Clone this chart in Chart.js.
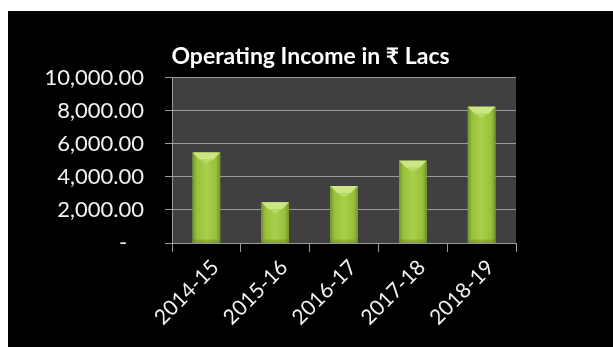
<!DOCTYPE html>
<html>
<head>
<meta charset="utf-8">
<script src="https://cdn.jsdelivr.net/npm/chart.js@4/dist/chart.umd.min.js"></script>
<style>
  html, body { margin: 0; padding: 0; background: #fff; }
  #wrap { position: absolute; left: 8px; top: 11px; width: 605px; height: 336px; background: #000; }
</style>
</head>
<body>
<div id="wrap"><canvas id="myChart" width="605" height="336"></canvas></div>
<script>
const years = ['2014-15', '2015-16', '2016-17', '2017-18', '2018-19'];
const income = [5470, 2470, 3440, 4980, 8240];
const yTicks = [0, 2000, 4000, 6000, 8000, 10000];

const FONT = 'Lato, "Noto Sans", sans-serif';

// dark grey plot area behind the bars
const plotBg = {
    id: 'plotBg',
    beforeDraw(chart) {
        const a = chart.chartArea;
        const c = chart.ctx;
        c.save();
        c.fillStyle = '#404040';
        c.fillRect(a.left, a.top, a.right - a.left, a.bottom - a.top);
        c.restore();
    }
};

// shaded bevel look on each bar
const bevel = {
    id: 'bevel',
    afterDatasetsDraw(chart) {
        const c = chart.ctx;
        chart.getDatasetMeta(0).data.forEach(bar => {
            const w = bar.width;
            const l = bar.x - w / 2, r = bar.x + w / 2;
            const top = bar.y, bot = bar.base;
            const g = c.createLinearGradient(l, 0, r, 0);
            g.addColorStop(0, '#74952a');
            g.addColorStop(0.15, '#98c03c');
            g.addColorStop(0.5, '#a8d04a');
            g.addColorStop(0.85, '#98c03c');
            g.addColorStop(1, '#74952a');
            c.save();
            c.fillStyle = g;
            c.fillRect(l, top, w, bot - top);
            const b = Math.min(7, (bot - top) / 3);
            // top facet
            c.fillStyle = '#cde585';
            c.beginPath();
            c.moveTo(l, top);
            c.lineTo(r, top);
            c.lineTo(r - b, top + b);
            c.lineTo(l + b, top + b);
            c.closePath();
            c.fill();
            c.fillStyle = '#b8d964';
            c.beginPath();
            c.moveTo(l + b, top + b);
            c.lineTo(r - b, top + b);
            c.lineTo(bar.x, top + b + 4);
            c.closePath();
            c.fill();
            // soft bottom edge
            c.fillStyle = 'rgba(100,130,30,0.35)';
            c.fillRect(l, bot - 3, w, 3);
            c.restore();
        });
    }
};

const ctx = document.getElementById('myChart').getContext('2d');

const myChart = new Chart(ctx, {
    type: 'bar',
    data: {
        labels: years,
        datasets: [{
            label: 'Operating Income',
            data: income,
            backgroundColor: '#9bc53d',
            borderWidth: 0,
            barPercentage: 0.4,
            categoryPercentage: 1
        }]
    },
    options: {
        responsive: false,
        animation: false,
        layout: { padding: 0 },
        scales: {
            x: {
                grid: {
                    offset: true,
                    drawOnChartArea: false,
                    color: '#9a9a9a',
                    tickLength: 9
                },
                border: { color: '#9a9a9a', width: 1 },
                ticks: {
                    color: '#f2f2f2',
                    font: { family: FONT, size: 21 },
                    minRotation: 45,
                    maxRotation: 45,
                    padding: 3,
                    labelOffset: 9
                },
                afterFit(scale) { scale.height = 104; }
            },
            y: {
                min: 0,
                max: 10000,
                afterBuildTicks(scale) {
                    scale.ticks = yTicks.map(v => ({ value: v }));
                },
                grid: {
                    color: '#9a9a9a',
                    tickLength: 7
                },
                border: { color: '#9a9a9a', width: 1 },
                ticks: {
                    color: '#f2f2f2',
                    font: { family: FONT, size: 22 },
                    padding: 21,
                    callback: v => v === 0 ? '-   ' : v.toLocaleString('en-US', { minimumFractionDigits: 2, maximumFractionDigits: 2 })
                },
                afterFit(scale) { scale.width = 164; }
            },
            // empty right-hand axis keeps the blank margin right of the plot
            yRight: {
                position: 'right',
                grid: { display: false },
                border: { display: false },
                ticks: { display: false },
                afterFit(scale) { scale.width = 97; }
            }
        },
        plugins: {
            legend: { display: false },
            tooltip: { enabled: false },
            title: {
                display: true,
                text: 'Operating Income in ₹ Lacs',
                color: '#ffffff',
                font: { family: FONT, size: 23, weight: 'bold' },
                padding: { top: 32, bottom: 7 }
            }
        }
    },
    plugins: [plotBg, bevel]
});
</script>
</body>
</html>
